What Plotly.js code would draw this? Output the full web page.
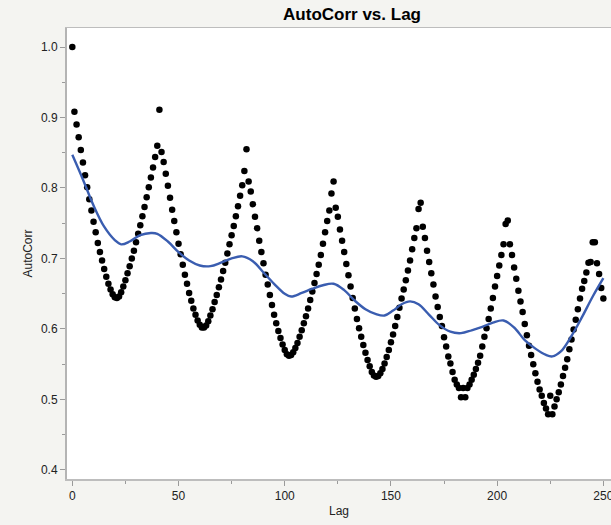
<!DOCTYPE html>
<html>
<head>
<meta charset="utf-8">
<script src="https://cdn.plot.ly/plotly-3.0.1.min.js"></script>
<style>
  html, body { margin: 0; padding: 0; background: #f4f4f1; }
  #chart { width: 611px; height: 525px; }
</style>
</head>
<body>
<div id="chart"></div>
<script>
// Sample autocorrelation for lags 0..250 (one value per lag)
const autoCorr = [
  1.000, 0.908, 0.890, 0.872, 0.854, 0.836, 0.818, 0.801, 0.784, 0.768,
  0.752, 0.737, 0.722, 0.709, 0.697, 0.685, 0.674, 0.664, 0.656, 0.649,
  0.645, 0.644, 0.646, 0.652, 0.660, 0.669, 0.679, 0.689, 0.700, 0.711,
  0.723, 0.735, 0.747, 0.760, 0.773, 0.787, 0.801, 0.815, 0.829, 0.844,
  0.860, 0.911, 0.851, 0.837, 0.820, 0.803, 0.786, 0.769, 0.753, 0.737,
  0.721, 0.706, 0.691, 0.677, 0.664, 0.651, 0.640, 0.629, 0.620, 0.612,
  0.606, 0.602, 0.602, 0.605, 0.611, 0.619, 0.628, 0.638, 0.648, 0.659,
  0.670, 0.682, 0.694, 0.707, 0.720, 0.733, 0.746, 0.760, 0.774, 0.789,
  0.804, 0.824, 0.855, 0.809, 0.795, 0.777, 0.759, 0.743, 0.725, 0.709,
  0.693, 0.677, 0.663, 0.648, 0.634, 0.620, 0.608, 0.597, 0.587, 0.578,
  0.570, 0.564, 0.562, 0.563, 0.567, 0.573, 0.580, 0.589, 0.598, 0.608,
  0.618, 0.629, 0.641, 0.653, 0.665, 0.678, 0.691, 0.705, 0.721, 0.737,
  0.753, 0.768, 0.792, 0.809, 0.772, 0.759, 0.741, 0.725, 0.709, 0.692,
  0.676, 0.660, 0.644, 0.629, 0.614, 0.601, 0.589, 0.577, 0.566, 0.556,
  0.547, 0.539, 0.534, 0.532, 0.533, 0.537, 0.543, 0.551, 0.560, 0.570,
  0.581, 0.592, 0.604, 0.617, 0.630, 0.643, 0.656, 0.669, 0.683, 0.697,
  0.713, 0.729, 0.743, 0.770, 0.779, 0.745, 0.729, 0.711, 0.695, 0.679,
  0.663, 0.646, 0.631, 0.617, 0.604, 0.588, 0.575, 0.561, 0.551, 0.539,
  0.528, 0.521, 0.516, 0.503, 0.516, 0.503, 0.516, 0.521, 0.528, 0.535,
  0.543, 0.552, 0.562, 0.575, 0.589, 0.601, 0.614, 0.629, 0.644, 0.660,
  0.675, 0.690, 0.705, 0.720, 0.749, 0.754, 0.720, 0.705, 0.687, 0.671,
  0.654, 0.639, 0.624, 0.607, 0.591, 0.576, 0.563, 0.550, 0.537, 0.525,
  0.514, 0.505, 0.495, 0.487, 0.479, 0.505, 0.479, 0.490, 0.500, 0.510,
  0.521, 0.533, 0.545, 0.557, 0.571, 0.585, 0.599, 0.613, 0.628, 0.643,
  0.657, 0.668, 0.680, 0.694, 0.695, 0.723, 0.723, 0.693, 0.678, 0.658,
  0.643
];
const lags = autoCorr.map((_, i) => i);

// Smoothing curve through the autocorrelation
const smoothLag = [0, 5, 10, 15, 20, 23, 27, 32, 37, 40, 45, 50, 55, 60, 65, 70, 75, 80,
  85, 90, 95, 100, 103, 108, 113, 118, 123, 128, 133, 138, 143, 147, 151, 155, 159,
  163, 168, 173, 178, 183, 188, 193, 198, 203, 208, 213, 218, 223, 226, 230, 235,
  240, 245, 250];
const smoothVal = [0.847, 0.812, 0.775, 0.745, 0.726, 0.720, 0.724, 0.733, 0.736, 0.735,
  0.724, 0.709, 0.697, 0.690, 0.689, 0.694, 0.700, 0.703, 0.696, 0.680, 0.664, 0.650,
  0.646, 0.651, 0.657, 0.662, 0.664, 0.655, 0.640, 0.628, 0.621, 0.619, 0.626, 0.635,
  0.639, 0.635, 0.620, 0.605, 0.596, 0.594, 0.598, 0.603, 0.609, 0.612, 0.602, 0.584,
  0.572, 0.563, 0.561, 0.568, 0.590, 0.617, 0.646, 0.672];

const xTicks = [0, 50, 100, 150, 200, 250];
const yTicks = [0.4, 0.5, 0.6, 0.7, 0.8, 0.9, 1.0];
const yTickText = ['0.4', '0.5', '0.6', '0.7', '0.8', '0.9', '1.0'];

const font = 'Liberation Sans, Arial, Helvetica, sans-serif';

const traces = [
  {
    x: lags, y: autoCorr, type: 'scatter', mode: 'markers',
    marker: { color: '#000000', size: 6.5 },
    hoverinfo: 'x+y'
  },
  {
    x: smoothLag, y: smoothVal, type: 'scatter', mode: 'lines',
    line: { color: '#3a5db0', width: 2.4, shape: 'spline', smoothing: 1 },
    hoverinfo: 'skip'
  }
];

const layout = {
  width: 611, height: 525,
  margin: { l: 67, r: 0, t: 28, b: 46 },
  paper_bgcolor: '#f4f4f1',
  plot_bgcolor: '#ffffff',
  showlegend: false,
  font: { family: font, size: 12, color: '#222' },
  title: {
    text: 'AutoCorr vs. Lag',
    font: { family: font, size: 17, color: '#000', weight: 'bold' },
    x: 0.524, xref: 'paper', xanchor: 'center',
    y: 0.973, yref: 'container', yanchor: 'middle'
  },
  xaxis: {
    range: [-2.5, 253.6],
    tickvals: xTicks,
    ticklabeloverflow: 'allow',
    ticks: 'outside', ticklen: 5, tickcolor: '#9a9a9a', tickwidth: 1,
    minor: { ticks: 'outside', ticklen: 3, dtick: 25, tick0: 0, tickcolor: '#9a9a9a', showgrid: false },
    showgrid: false, zeroline: false,
    showline: true, linecolor: '#bdbdbd', linewidth: 1.5, mirror: true,
    tickfont: { family: font, size: 12, color: '#222' },
    title: { text: 'Lag', font: { family: font, size: 12, color: '#222' }, standoff: 4 }
  },
  yaxis: {
    range: [0.387, 1.027],
    tickvals: yTicks, ticktext: yTickText,
    ticks: 'outside', ticklen: 5, tickcolor: '#9a9a9a', tickwidth: 1,
    minor: { ticks: 'outside', ticklen: 3, dtick: 0.05, tick0: 0, tickcolor: '#9a9a9a', showgrid: false },
    showgrid: false, zeroline: false,
    showline: true, linecolor: '#b4b4b4', linewidth: 2,
    tickfont: { family: font, size: 12, color: '#222' },
    title: { text: 'AutoCorr', font: { family: font, size: 12, color: '#222' }, standoff: 6 }
  }
};

Plotly.newPlot('chart', traces, layout, { displayModeBar: false, staticPlot: true });
</script>
</body>
</html>
